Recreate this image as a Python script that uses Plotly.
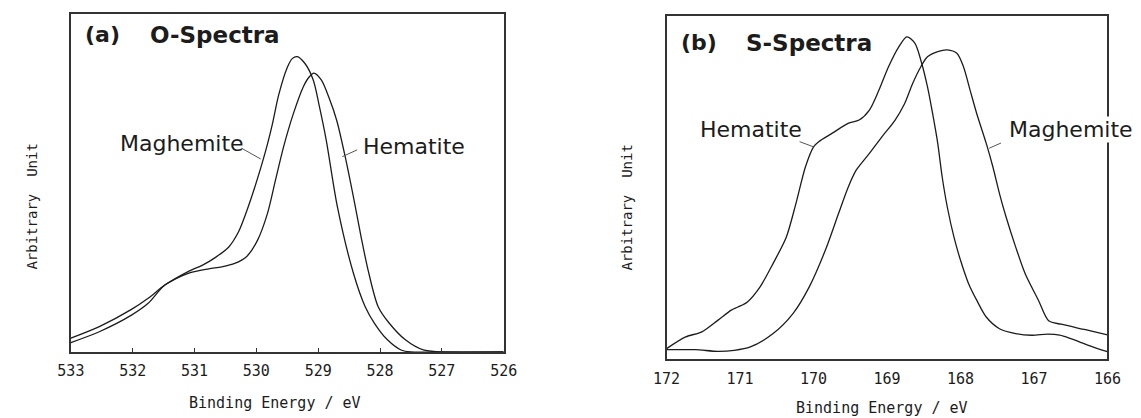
import plotly.graph_objects as go

# ---- O 1s spectra (panel a), binding energy in eV, intensity in arbitrary units ----
o_maghemite_ev = [533.0, 532.54, 532.02, 531.75, 531.48, 531.08, 530.87, 530.66, 530.45,
                  530.29, 530.16, 530.03, 529.85, 529.74, 529.64, 529.50, 529.42, 529.34,
                  529.22, 529.08, 528.98, 528.87, 528.69, 528.43, 528.24, 528.09, 527.88,
                  527.66, 527.50, 527.0, 526.0]
o_maghemite_int = [4.1, 7.5, 12.6, 15.9, 19.8, 24.0, 25.7, 28.0, 31.0,
                   35.5, 41.5, 48.5, 59.5, 67.5, 76.0, 84.2, 86.8, 87.4,
                   85.5, 80.5, 72.6, 62.7, 43.0, 23.3, 13.4, 8.5, 3.6,
                   0.6, 0.0, 0.0, 0.0]

o_hematite_ev = [533.0, 532.54, 532.02, 531.75, 531.48, 531.08, 530.77, 530.56, 530.35,
                 530.16, 529.98, 529.82, 529.69, 529.56, 529.40, 529.24, 529.15, 529.07,
                 528.95, 528.82, 528.70, 528.56, 528.41, 528.30, 528.19, 528.03, 527.85,
                 527.59, 527.30, 527.0, 526.0]
o_hematite_int = [2.8, 6.0, 10.9, 14.4, 19.8, 23.4, 24.6, 25.2, 26.2,
                  28.2, 33.1, 41.0, 50.9, 60.7, 70.6, 78.5, 81.3, 82.5,
                  80.5, 75.0, 68.5, 57.5, 44.0, 33.5, 24.0, 13.4, 8.5,
                  3.6, 0.6, 0.0, 0.0]

# ---- S 2p spectra (panel b) ----
s_hematite_ev = [172.0, 171.74, 171.52, 171.30, 171.12, 171.03, 170.90, 170.73, 170.55,
                 170.37, 170.24, 170.11, 170.0, 169.93, 169.75, 169.53, 169.38, 169.24,
                 169.11, 168.98, 168.84, 168.73, 168.62, 168.54, 168.45, 168.38, 168.31,
                 168.25, 168.18, 168.09, 168.0, 167.89, 167.78, 167.65, 167.47, 167.25,
                 167.03, 166.81, 166.65, 166.5, 166.25, 166.0]
s_hematite_int = [3.1, 6.5, 8.0, 11.4, 14.3, 15.2, 16.7, 21.0, 27.9,
                  35.6, 45.3, 56.0, 61.8, 63.3, 65.7, 68.6, 69.6, 72.5,
                  78.3, 85.1, 90.9, 93.8, 91.9, 87.0, 79.3, 71.5, 62.8,
                  53.1, 44.3, 35.6, 28.8, 22.0, 17.2, 12.3, 8.9, 7.5,
                  7.0, 7.3, 7.0, 6.0, 4.0, 2.2]

s_maghemite_ev = [172.0, 171.61, 171.30, 171.08, 170.86, 170.55, 170.28, 170.06, 169.84,
                  169.66, 169.53, 169.42, 169.24, 169.07, 168.89, 168.76, 168.65, 168.54,
                  168.45, 168.31, 168.18, 168.05, 167.96, 167.87, 167.78, 167.65, 167.56,
                  167.47, 167.38, 167.25, 167.12, 166.94, 166.80, 166.63, 166.3, 166.0]
s_maghemite_int = [2.8, 2.8, 2.3, 2.6, 3.6, 7.5, 13.3, 21.0, 31.7,
                   42.4, 50.0, 55.0, 59.9, 64.7, 69.6, 74.4, 80.3, 85.1,
                   88.0, 89.5, 90.0, 89.0, 85.1, 78.3, 71.5, 62.8, 56.0,
                   48.2, 41.4, 32.7, 24.9, 17.2, 11.2, 10.2, 8.6, 7.1]

o_ticks = [533, 532, 531, 530, 529, 528, 527, 526]
s_ticks = [172, 171, 170, 169, 168, 167, 166]

W, H = 1141, 418
INK = "#1c1c1c"
FRAME = "#333333"
MONO = "DejaVu Sans Mono"
SANS = "DejaVu Sans"

line_style = dict(color=INK, width=1.3, shape="spline", smoothing=0.8)

fig = go.Figure()
fig.add_trace(go.Scatter(x=o_maghemite_ev, y=o_maghemite_int, mode="lines",
                         line=line_style, xaxis="x", yaxis="y", showlegend=False))
fig.add_trace(go.Scatter(x=o_hematite_ev, y=o_hematite_int, mode="lines",
                         line=line_style, xaxis="x", yaxis="y", showlegend=False))
fig.add_trace(go.Scatter(x=s_hematite_ev, y=s_hematite_int, mode="lines",
                         line=line_style, xaxis="x2", yaxis="y2", showlegend=False))
fig.add_trace(go.Scatter(x=s_maghemite_ev, y=s_maghemite_int, mode="lines",
                         line=line_style, xaxis="x2", yaxis="y2", showlegend=False))

def px_x(p):
    return p / W

def px_y(p):
    return 1 - p / H

frame = dict(showline=True, mirror=True, linecolor=FRAME, linewidth=1.5,
             showgrid=False, zeroline=False)

fig.update_layout(
    width=W, height=H,
    margin=dict(l=0, r=0, t=0, b=0),
    paper_bgcolor="white", plot_bgcolor="white",
    xaxis=dict(domain=[px_x(58.3), px_x(502)], range=[533, 526], anchor="y",
               tickvals=o_ticks, ticktext=[str(t) for t in o_ticks],
               ticks="inside", ticklen=4, tickcolor=FRAME, tickwidth=1,
               tickfont=dict(family=MONO, size=15, color=INK),
               ticklabelstandoff=4, **frame),
    yaxis=dict(domain=[px_y(352), px_y(14)], range=[0, 100], anchor="x",
               showticklabels=False, ticks="", **frame),
    xaxis2=dict(domain=[px_x(669), px_x(1121)], range=[172, 166], anchor="y2",
                tickvals=s_ticks, ticktext=[str(t) for t in s_ticks],
                ticks="", tickfont=dict(family=MONO, size=15, color=INK),
                ticklabelstandoff=5, **frame),
    yaxis2=dict(domain=[px_y(359.3), px_y(15.5)], range=[0, 100], anchor="x2",
                showticklabels=False, ticks="", **frame),
)

ann = []

def label(text, x, y, xref, yref, size, bold=False, xanchor="left", bg=None):
    d = dict(text=f"<b>{text}</b>" if bold else text, x=x, y=y, xref=xref, yref=yref,
             xanchor=xanchor, yanchor="middle", showarrow=False,
             font=dict(family=SANS, size=size, color=INK))
    if bg:
        d["bgcolor"] = bg
        d["borderpad"] = 0
    ann.append(d)

# Panel titles
label("(a)", 532.80, 93.8, "x", "y", 22, bold=True)
label("O-Spectra", 531.76, 93.8, "x", "y", 23, bold=True)
label("(b)", 171.83, 92.0, "x2", "y2", 22, bold=True)
label("S-Spectra", 170.95, 92.0, "x2", "y2", 23, bold=True)

# Curve labels
label("Maghemite", 532.24, 61.7, "x", "y", 22)
label("Hematite", 528.30, 60.9, "x", "y", 22)
label("Hematite", 171.57, 66.7, "x2", "y2", 22)
label("Maghemite", 167.35, 66.7, "x2", "y2", 22, bg="white")

fig.layout.annotations = ann

# Leader lines from the labels to the curves
leaders = [
    ("x", "y", 530.24, 60.3, 529.93, 57.1),
    ("x", "y", 528.61, 57.8, 528.37, 59.8),
    ("x2", "y2", 170.19, 63.3, 170.0, 61.8),
    ("x2", "y2", 167.61, 61.4, 167.45, 62.9),
]
for xr, yr, x0, y0, x1, y1 in leaders:
    fig.add_shape(type="line", xref=xr, yref=yr, x0=x0, y0=y0, x1=x1, y1=y1,
                  line=dict(color="#555555", width=1))

# Axis titles
for text, x, y in [("Binding Energy / eV", 268, 403), ("Binding Energy / eV", 890, 408)]:
    fig.add_annotation(text=text, x=px_x(x), y=px_y(y), xref="paper", yref="paper",
                       xanchor="center", yanchor="middle", showarrow=False,
                       font=dict(family=MONO, size=15, color=INK))
for x, y in [(18, 207), (628, 208)]:
    fig.add_annotation(text="Arbitrary  Unit", x=px_x(x), y=px_y(y), xref="paper",
                       yref="paper", xanchor="center", yanchor="middle", textangle=-90,
                       showarrow=False, font=dict(family=MONO, size=14, color=INK))

fig.write_html("out.html")
